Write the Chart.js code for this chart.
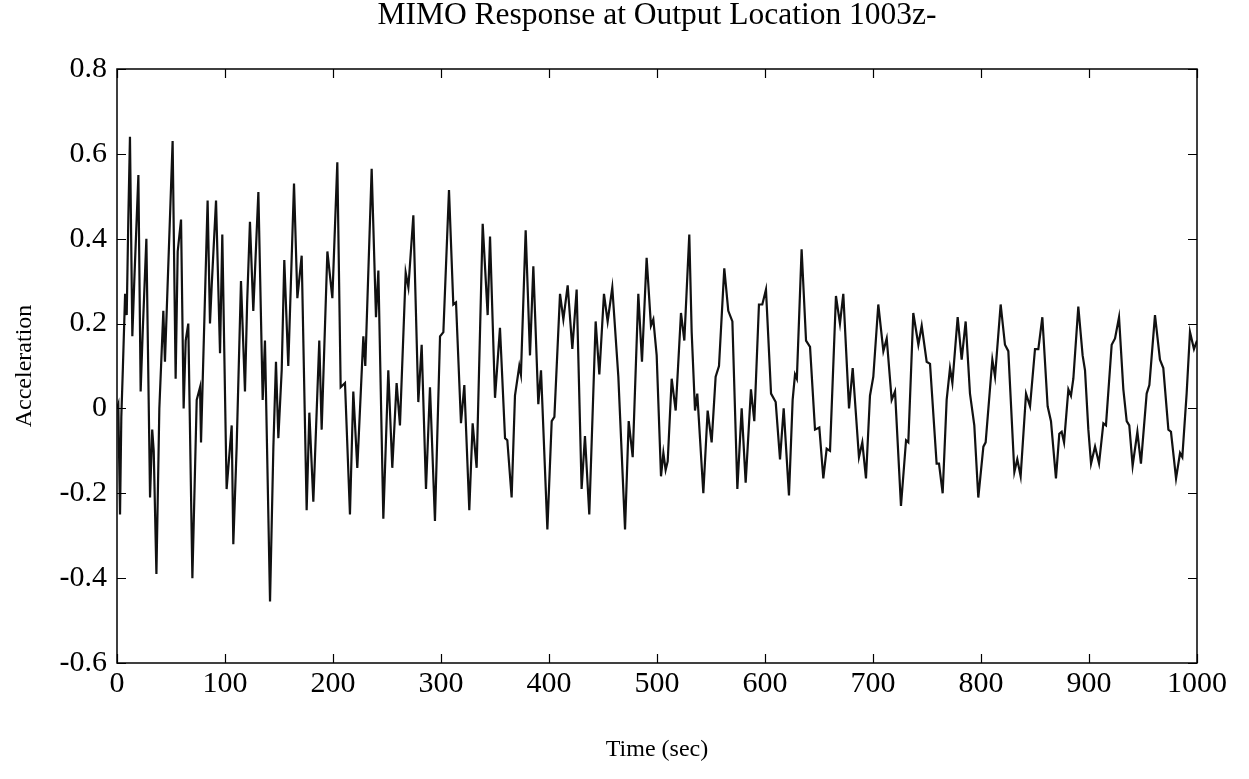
<!DOCTYPE html>
<html>
<head>
<meta charset="utf-8">
<title>MIMO Response at Output Location 1003z-</title>
<script src="https://cdn.jsdelivr.net/npm/chart.js@4.4.1/dist/chart.umd.min.js"></script>
<style>
  html, body { margin: 0; padding: 0; background: #fff; }
  #wrap { width: 1249px; height: 779px; position: relative; }
</style>
</head>
<body>
<div id="wrap"><canvas id="chart" width="1249" height="779"></canvas></div>
<script>
// Time samples (sec)
const times = [
  0, 1.2, 2.8, 4.0, 5.5, 7.5, 9.0, 10.5, 12.0, 14.2, 16.0, 19.8, 21.9, 23.8, 27.2, 30.6, 32.6, 34.0, 36.5,
  39.2, 42.9, 44.4, 51.5, 54.3, 56.2, 59.3, 61.7, 63.6, 66.0, 69.8, 73.8, 76.9, 77.8, 83.9, 86.1, 87.7,
  91.7, 95.4, 97.5, 101.5, 106.2, 107.7, 110.8, 114.8, 118.5, 120.5, 123.1, 126.2, 130.9, 134.9, 137.0,
  141.7, 144.8, 147.2, 149.4, 152.5, 154.9, 158.6, 163.9, 167.0, 171.0, 175.6, 178.1, 181.8, 187.3, 189.5,
  194.8, 199.4, 204.0, 207.1, 211.1, 215.7, 218.8, 222.5, 228.1, 229.9, 235.8, 239.8, 242.0, 246.6, 251.2,
  254.9, 258.9, 262.0, 267.3, 269.8, 274.4, 279.0, 282.1, 286.1, 289.8, 294.4, 299.1, 302.2, 307.4, 311.4,
  313.9, 318.5, 321.6, 326.2, 329.3, 333.0, 338.6, 343.2, 345.4, 350.0, 354.6, 359.3, 361.4, 365.4, 368.5,
  372.5, 374.0, 378.4, 382.4, 385.5, 390.1, 392.6, 398.5, 402.5, 405.0, 410.2, 413.3, 417.3, 421.6, 425.6,
  430.2, 433.3, 437.3, 443.2, 446.6, 450.9, 454.3, 458.6, 464.2, 470.4, 473.8, 477.5, 482.7, 486.1, 490.4,
  494.4, 496.6, 499.7, 503.7, 505.9, 508.0, 509.9, 513.6, 517.3, 522.2, 525.3, 529.9, 532.1, 535.2, 537.3,
  542.9, 546.9, 550.6, 554.3, 557.4, 562.3, 566.0, 569.8, 574.4, 578.4, 582.1, 587.0, 590.1, 594.4, 597.5,
  600.9, 605.6, 609.9, 613.9, 617.3, 622.2, 625.6, 627.8, 629.5, 633.9, 638.0, 641.7, 646.3, 650.3, 654.0,
  657.1, 660.2, 665.7, 669.4, 672.5, 677.8, 681.2, 687.0, 690.1, 693.5, 697.2, 700.3, 704.9, 709.6, 712.7,
  717.3, 720.4, 725.9, 730.6, 732.7, 737.3, 742.0, 745.1, 749.7, 752.8, 758.9, 761.1, 764.5, 768.2, 771.3,
  773.5, 778.4, 782.1, 785.8, 789.8, 793.8, 797.5, 802.2, 804.3, 810.5, 813.0, 818.2, 822.2, 825.3, 830.9,
  833.6, 836.7, 841.7, 845.4, 850.0, 853.1, 856.8, 861.7, 864.8, 869.4, 872.5, 874.7, 876.9, 880.9, 883.3,
  885.5, 890.1, 894.1, 896.3, 899.4, 901.9, 905.6, 909.3, 913.3, 915.7, 921.0, 924.1, 927.8, 931.8, 934.9,
  937.3, 940.4, 944.8, 948.1, 953.4, 955.9, 961.1, 965.7, 968.8, 973.5, 975.9, 980.6, 984.3, 986.4, 990.4,
  993.5, 997.2, 1000
]

// Acceleration at each time sample
const accel = [
  0.00, 0.01, -0.25, -0.02, 0.10, 0.27, 0.22, 0.45, 0.64, 0.17, 0.30, 0.55, 0.04, 0.18, 0.40, -0.21, -0.05, -0.10, -0.39,
  0.00, 0.23, 0.11, 0.63, 0.07, 0.37, 0.445, 0.00, 0.16, 0.20, -0.40, 0.02, 0.05, -0.08, 0.49, 0.20, 0.29,
  0.49, 0.13, 0.41, -0.19, -0.04, -0.32, -0.09, 0.30, 0.04, 0.25, 0.44, 0.23, 0.51, 0.02, 0.16,
  -0.455, -0.09, 0.11, -0.07, 0.09, 0.35, 0.10, 0.53, 0.26, 0.36, -0.24, -0.01, -0.22, 0.16, -0.05,
  0.37, 0.26, 0.58, 0.05, 0.06, -0.25, 0.04, -0.14, 0.17, 0.10, 0.565, 0.215, 0.325, -0.26, 0.09,
  -0.14, 0.06, -0.04, 0.32, 0.285, 0.455, 0.015, 0.15, -0.19, 0.05, -0.265, 0.17, 0.18, 0.515, 0.245,
  0.25, -0.035, 0.055, -0.24, -0.035, -0.14, 0.435, 0.22, 0.405, 0.025, 0.19, -0.07, -0.075, -0.21, 0.03,
  0.10, 0.08, 0.42, 0.125, 0.335, 0.01, 0.09, -0.285, -0.03, -0.02, 0.27, 0.21, 0.29, 0.14, 0.28,
  -0.19, -0.065, -0.25, 0.205, 0.08, 0.27, 0.205, 0.285, 0.075, -0.285, -0.03, -0.115, 0.27, 0.11, 0.355,
  0.195, 0.21, 0.125, -0.16, -0.105, -0.145, -0.125, 0.07, -0.005, 0.225, 0.16, 0.41, 0.18, -0.005, 0.035,
  -0.20, -0.005, -0.08, 0.075, 0.10, 0.33, 0.23, 0.205, -0.19, 0.00, -0.175, 0.045, -0.03, 0.245, 0.245,
  0.28, 0.035, 0.015, -0.12, 0.00, -0.205, 0.02, 0.08, 0.07, 0.375, 0.16, 0.145, -0.05, -0.045, -0.165,
  -0.095, -0.10, 0.265, 0.20, 0.27, 0.00, 0.095, -0.115, -0.08, -0.165, 0.03, 0.075, 0.245, 0.135, 0.165,
  0.02, 0.04, -0.23, -0.075, -0.08, 0.225, 0.15, 0.195, 0.11, 0.105, -0.13, -0.13, -0.20, 0.02, 0.095,
  0.06, 0.215, 0.115, 0.205, 0.035, -0.04, -0.21, -0.09, -0.08, 0.115, 0.075, 0.245, 0.15, 0.135, -0.15,
  -0.12, -0.16, 0.035, 0.005, 0.14, 0.14, 0.215, 0.005, -0.03, -0.165, -0.06, -0.055, -0.08, 0.045, 0.03,
  0.07, 0.24, 0.125, 0.09, -0.05, -0.13, -0.09, -0.13, -0.035, -0.04, 0.15, 0.165, 0.215, 0.045, -0.03,
  -0.04, -0.135, -0.055, -0.13, 0.035, 0.055, 0.22, 0.115, 0.095, -0.05, -0.055, -0.165, -0.105, -0.115, 0.035,
  0.18, 0.14, 0.16
]

// Axis tick values
const xTicks = [0, 100, 200, 300, 400, 500, 600, 700, 800, 900, 1000]
const yTicks = [-0.6, -0.4, -0.2, 0, 0.2, 0.4, 0.6, 0.8]

const serif = "'Liberation Serif', 'Times New Roman', serif"

// Box around the plot + inward ticks on all four sides (MATLAB style)
const frameTicks = {
  id: "frameTicks",
  afterDraw(chart) {
    const { ctx, chartArea: a, scales } = chart
    ctx.save()
    ctx.strokeStyle = "#000"
    ctx.lineWidth = 1.5
    ctx.strokeRect(a.left, a.top, a.right - a.left, a.bottom - a.top)
    ctx.lineWidth = 1.2
    ctx.beginPath()
    xTicks.forEach((v) => {
      const x = Math.round(scales.x.getPixelForValue(v)) + 0.5
      ctx.moveTo(x, a.bottom); ctx.lineTo(x, a.bottom - 9)
      ctx.moveTo(x, a.top); ctx.lineTo(x, a.top + 9)
    })
    yTicks.forEach((v) => {
      const y = Math.round(scales.y.getPixelForValue(v)) + 0.5
      ctx.moveTo(a.left, y); ctx.lineTo(a.left + 9, y)
      ctx.moveTo(a.right, y); ctx.lineTo(a.right - 9, y)
    })
    ctx.stroke()
    ctx.restore()
  },
}

const points = times.map((t, i) => ({ x: t, y: accel[i] }))

new Chart(document.getElementById("chart"), {
  type: "line",
  data: {
    datasets: [
      {
        data: points,
        borderColor: "#111",
        borderWidth: 2.2,
        pointRadius: 0,
        tension: 0,
        fill: false,
      },
    ],
  },
  options: {
    responsive: false,
    animation: false,
    layout: { padding: { left: 0, right: 52, top: 0, bottom: 0 } },
    plugins: {
      legend: { display: false },
      tooltip: { enabled: false },
      title: {
        display: true,
        fullSize: false,
        text: "MIMO Response at Output Location 1003z-",
        color: "#000",
        font: { family: serif, size: 31.5, weight: "normal", lineHeight: 1 },
        padding: { top: 0, bottom: 37.5 },
      },
    },
    scales: {
      x: {
        type: "linear",
        min: 0,
        max: 1000,
        afterBuildTicks: (scale) => { scale.ticks = xTicks.map((v) => ({ value: v })) },
        afterFit: (scale) => { scale.height = 116 },
        grid: { display: false, drawTicks: false },
        border: { display: false },
        ticks: {
          color: "#000",
          padding: 3,
          maxRotation: 0,
          font: { family: serif, size: 30 },
          callback: (v) => String(v),
        },
        title: {
          display: true,
          text: "Time (sec)",
          color: "#000",
          font: { family: serif, size: 24 },
          padding: { top: 0, bottom: 14.6 },
        },
      },
      y: {
        type: "linear",
        min: -0.6,
        max: 0.8,
        afterBuildTicks: (scale) => { scale.ticks = yTicks.map((v) => ({ value: v })) },
        afterFit: (scale) => { scale.width = 117 },
        grid: { display: false, drawTicks: false },
        border: { display: false },
        ticks: {
          color: "#000",
          padding: 10,
          font: { family: serif, size: 30 },
          callback: (v) => (Math.abs(v) < 1e-9 ? "0" : String(Math.round(v * 10) / 10)),
        },
        title: {
          display: true,
          text: "Acceleration",
          color: "#000",
          font: { family: serif, size: 24 },
          padding: { top: 10.6, bottom: 0 },
        },
      },
    },
  },
  plugins: [frameTicks],
})
</script>
</body>
</html>
